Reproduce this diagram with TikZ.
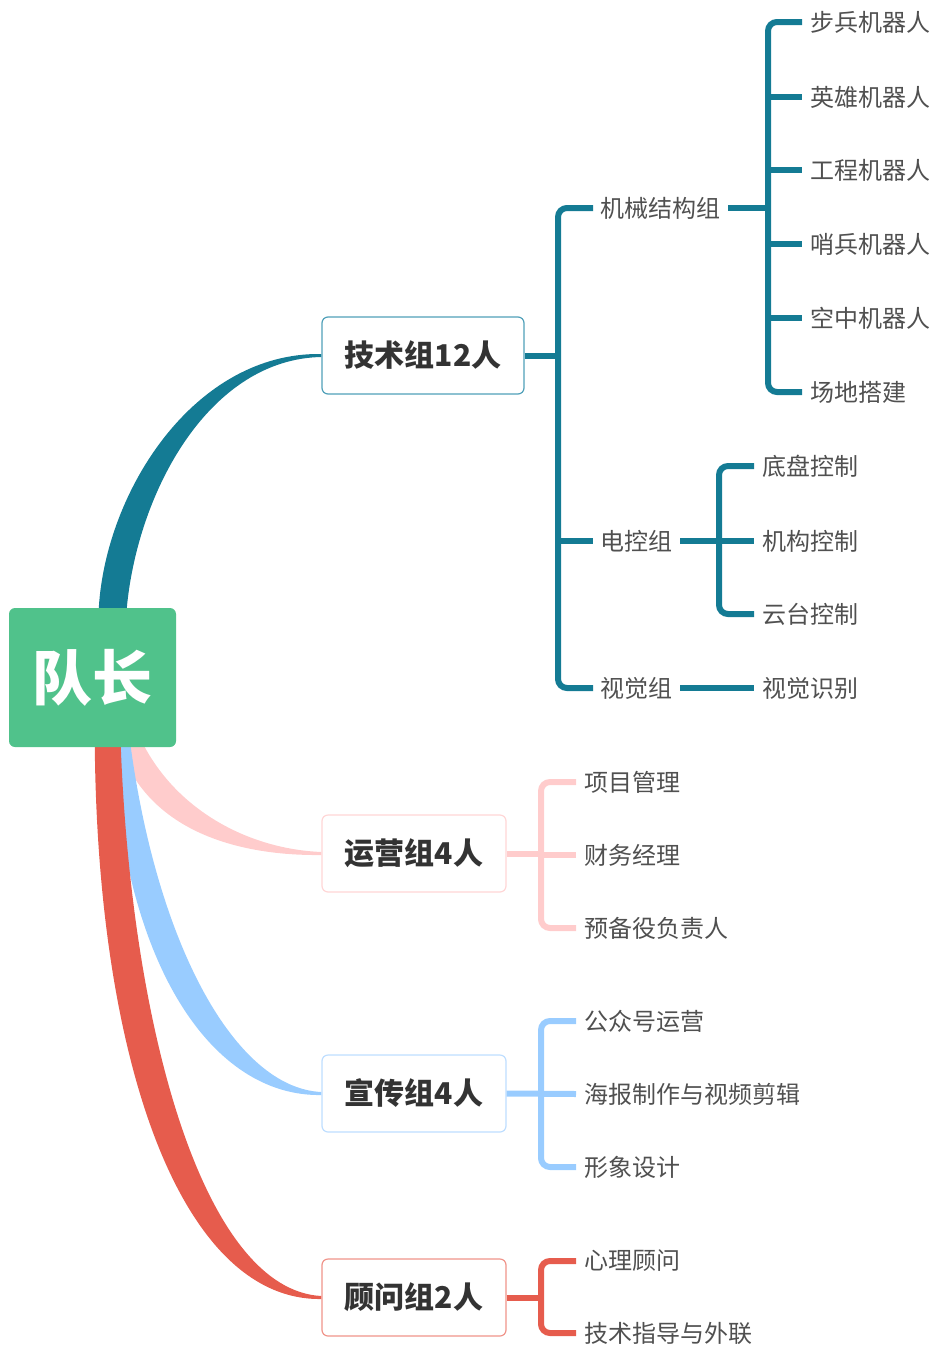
\documentclass[tikz,border=0pt]{standalone}
\usepackage{fontspec}
\setmainfont{Noto Sans CJK SC}
\pgfdeclarelayer{bg}
\pgfsetlayers{bg,main}
\definecolor{tealc}{RGB}{20,123,148}
\definecolor{tealb}{RGB}{80,160,185}
\definecolor{pinkc}{RGB}{255,204,204}
\definecolor{pinkb}{RGB}{255,214,214}
\definecolor{bluec}{RGB}{153,204,255}
\definecolor{blueb}{RGB}{190,222,255}
\definecolor{redc}{RGB}{230,92,77}
\definecolor{redb}{RGB}{240,148,138}
\definecolor{greenc}{RGB}{80,194,139}
\definecolor{txt}{RGB}{80,80,80}
\definecolor{txtd}{RGB}{51,51,51}
\tikzset{
  rootbox/.style={fill=greenc, rounded corners=6pt, minimum width=167pt, minimum height=139pt, inner sep=0pt, text=white, font=\bfseries\fontsize{60}{70}\selectfont},
  grp/.style={fill=white, line width=1.2pt, rounded corners=6pt, minimum height=77pt, inner sep=0pt, text=txtd, font=\bfseries\fontsize{30}{36}\selectfont},
  leaf/.style={anchor=west, inner sep=0pt, text=txt, font=\fontsize{24}{28}\selectfont},
  ln/.style={line width=6pt},
  br/.style={line width=6pt, rounded corners=9pt},
}
\begin{document}
\begin{tikzpicture}[x=1pt,y=-1pt]
\useasboundingbox (0,0) rectangle (933,1349);
% root and group boxes
\node[rootbox] (root) at (92.5,677.5) {队长};
\node[grp, draw=tealb, minimum width=202pt] (tech) at (423,355.5) {技术组12人};
\node[grp, draw=pinkb, minimum width=184pt] (ops) at (414,853.5) {运营组4人};
\node[grp, draw=blueb, minimum width=184pt] (pub) at (414,1093.5) {宣传组4人};
\node[grp, draw=redb, minimum width=184pt] (adv) at (414,1297.5) {顾问组2人};
% tapered branches
\begin{pgfonlayer}{bg}
\fill[pinkc] ([xshift=111pt]root.south west) .. controls (148,830) and (236,856) .. ([yshift=-1.5pt]ops.west)
  -- ([yshift=1.5pt]ops.west) .. controls (250,849) and (180,812) .. ([xshift=136pt]root.south west) -- cycle;
\fill[bluec] ([xshift=104pt]root.south west) .. controls (124,965) and (212,1097) .. ([yshift=-1.5pt]pub.west)
  -- ([yshift=1.5pt]pub.west) .. controls (235,1088) and (158,945) .. ([xshift=122pt]root.south west) -- cycle;
\fill[redc] ([xshift=86pt]root.south west) .. controls (98,1065) and (182,1301) .. ([yshift=-1.5pt]adv.west)
  -- ([yshift=1.5pt]adv.west) .. controls (205,1290) and (132,1035) .. ([xshift=112pt]root.south west) -- cycle;
\fill[tealc] ([xshift=90pt]root.north west) .. controls (106,490) and (195,352) .. ([yshift=1.5pt]tech.west)
  -- ([yshift=-1.5pt]tech.west) .. controls (210,359) and (138,490) .. ([xshift=118pt]root.north west) -- cycle;
\end{pgfonlayer}
% technical subtree
\node[leaf] (mech) at (600,208) {机械结构组};
\node[leaf] (elec) at (600,541) {电控组};
\node[leaf] (vis) at (600,688) {视觉组};
\node[leaf] (m1) at (810,22) {步兵机器人};
\node[leaf] (m2) at (810,97) {英雄机器人};
\node[leaf] (m3) at (810,170) {工程机器人};
\node[leaf] (m4) at (810,244) {哨兵机器人};
\node[leaf] (m5) at (810,318) {空中机器人};
\node[leaf] (m6) at (810,392) {场地搭建};
\node[leaf] (e1) at (762,466) {底盘控制};
\node[leaf] (e2) at (762,541) {机构控制};
\node[leaf] (e3) at (762,614) {云台控制};
\node[leaf] (v1) at (762,688) {视觉识别};
\coordinate (tb) at (558,0);
\coordinate (mb) at (768,0);
\coordinate (eb) at (719,0);
\draw[br, draw=tealc] ([xshift=-7pt]mech.west) -| (tb |- vis.west) -- ([xshift=-7pt]vis.west);
\draw[ln, draw=tealc] (tech.east) -- (tb |- tech.east);
\draw[ln, draw=tealc] (tb |- elec.west) -- ([xshift=-7pt]elec.west);
\draw[br, draw=tealc] ([xshift=-8pt]m1.west) -| (mb |- m6.west) -- ([xshift=-8pt]m6.west);
\foreach \n in {m2,m3,m4,m5} \draw[ln, draw=tealc] (mb |- \n.west) -- ([xshift=-8pt]\n.west);
\draw[ln, draw=tealc] ([xshift=8pt]mech.east) -- (mb |- mech.east);
\draw[br, draw=tealc] ([xshift=-8pt]e1.west) -| (eb |- e3.west) -- ([xshift=-8pt]e3.west);
\draw[ln, draw=tealc] ([xshift=8pt]elec.east) -- ([xshift=-8pt]e2.west);
\draw[ln, draw=tealc] ([xshift=8pt]vis.east) -- ([xshift=-8pt]v1.west);
% operations subtree
\node[leaf] (o1) at (584,782) {项目管理};
\node[leaf] (o2) at (584,855) {财务经理};
\node[leaf] (o3) at (584,928) {预备役负责人};
\coordinate (gb) at (541,0);
\draw[br, draw=pinkc] ([xshift=-8pt]o1.west) -| (gb |- o3.west) -- ([xshift=-8pt]o3.west);
\draw[ln, draw=pinkc] (ops.east) -- (gb |- ops.east);
\draw[ln, draw=pinkc] (gb |- o2.west) -- ([xshift=-8pt]o2.west);
% publicity subtree
\node[leaf] (p1) at (584,1021) {公众号运营};
\node[leaf] (p2) at (584,1094) {海报制作与视频剪辑};
\node[leaf] (p3) at (584,1167) {形象设计};
\draw[br, draw=bluec] ([xshift=-8pt]p1.west) -| (gb |- p3.west) -- ([xshift=-8pt]p3.west);
\draw[ln, draw=bluec] (pub.east) -- ([xshift=-8pt]p2.west);
% adviser subtree
\node[leaf] (a1) at (584,1261) {心理顾问};
\node[leaf] (a2) at (584,1333) {技术指导与外联};
\draw[br, draw=redc] ([xshift=-8pt]a1.west) -| (gb |- a2.west) -- ([xshift=-8pt]a2.west);
\draw[ln, draw=redc] (adv.east) -- (gb |- adv.east);
\end{tikzpicture}
\end{document}
